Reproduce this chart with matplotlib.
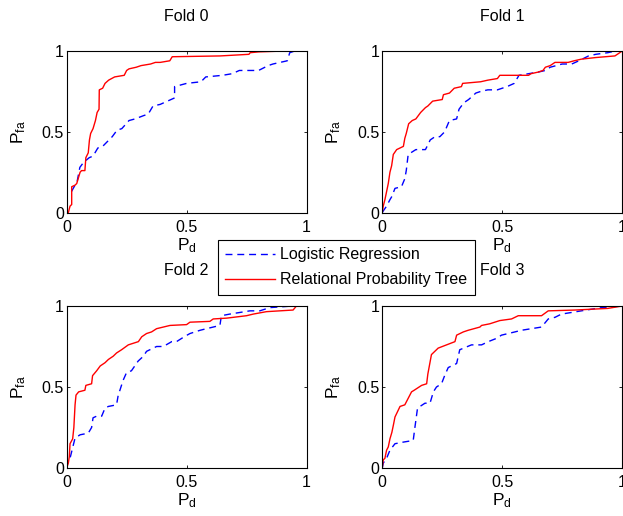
import matplotlib
matplotlib.use('Agg')
import matplotlib.pyplot as plt

plt.rcParams['font.family'] = ['Liberation Sans', 'DejaVu Sans']
plt.rcParams['font.size'] = 11.5
plt.rcParams['mathtext.fontset'] = 'custom'
plt.rcParams['mathtext.rm'] = 'Liberation Sans'

# ROC points, (P_d, P_fa) per fold
lr_x0 = [0, 0, 0.02, 0.035, 0.042, 0.055, 0.07, 0.094, 0.11, 0.13, 0.15, 0.19, 0.21, 0.23, 0.26, 0.285, 0.32, 0.34, 0.36, 0.39, 0.42, 0.45, 0.45, 0.5, 0.56, 0.58, 0.65, 0.69, 0.72, 0.8, 0.84, 0.86, 0.92, 0.93, 0.95, 1.0]
lr_y0 = [0, 0.11, 0.13, 0.17, 0.18, 0.28, 0.31, 0.34, 0.35, 0.40, 0.41, 0.47, 0.51, 0.52, 0.57, 0.58, 0.60, 0.61, 0.66, 0.67, 0.69, 0.71, 0.78, 0.80, 0.81, 0.84, 0.85, 0.86, 0.88, 0.88, 0.91, 0.92, 0.94, 0.99, 1.0, 1.0]
rpt_x0 = [0, 0.007, 0.014, 0.021, 0.021, 0.035, 0.042, 0.05, 0.056, 0.062, 0.076, 0.08, 0.09, 0.095, 0.1, 0.11, 0.12, 0.127, 0.135, 0.136, 0.15, 0.16, 0.175, 0.2, 0.24, 0.25, 0.26, 0.29, 0.31, 0.35, 0.37, 0.39, 0.43, 0.44, 0.64, 0.76, 0.765, 0.8, 0.9, 1.0]
rpt_y0 = [0, 0, 0.04, 0.05, 0.16, 0.17, 0.18, 0.22, 0.25, 0.26, 0.26, 0.34, 0.37, 0.45, 0.49, 0.52, 0.57, 0.62, 0.64, 0.76, 0.77, 0.80, 0.82, 0.84, 0.85, 0.88, 0.89, 0.90, 0.91, 0.92, 0.93, 0.93, 0.94, 0.965, 0.97, 0.98, 0.99, 0.995, 1.0, 1.0]

lr_x1 = [0, 0.004, 0.018, 0.032, 0.04, 0.053, 0.08, 0.094, 0.1, 0.108, 0.14, 0.18, 0.2, 0.22, 0.24, 0.26, 0.28, 0.31, 0.32, 0.34, 0.36, 0.39, 0.41, 0.44, 0.48, 0.52, 0.55, 0.57, 0.61, 0.65, 0.68, 0.7, 0.75, 0.79, 0.82, 0.86, 0.89, 0.94, 0.97, 1.0]
lr_y1 = [0, 0.01, 0.04, 0.08, 0.1, 0.15, 0.16, 0.21, 0.26, 0.36, 0.39, 0.39, 0.45, 0.47, 0.47, 0.50, 0.57, 0.58, 0.64, 0.68, 0.70, 0.74, 0.75, 0.76, 0.76, 0.78, 0.80, 0.85, 0.86, 0.87, 0.88, 0.90, 0.92, 0.92, 0.94, 0.97, 0.98, 0.99, 1.0, 1.0]
rpt_x1 = [0, 0.004, 0.011, 0.018, 0.025, 0.032, 0.039, 0.046, 0.06, 0.074, 0.088, 0.094, 0.1, 0.11, 0.125, 0.14, 0.16, 0.18, 0.19, 0.21, 0.25, 0.255, 0.28, 0.3, 0.33, 0.335, 0.41, 0.44, 0.48, 0.49, 0.61, 0.62, 0.65, 0.67, 0.68, 0.7, 0.72, 0.775, 0.8, 0.83, 0.89, 0.97, 1.0]
rpt_y1 = [0, 0.04, 0.08, 0.13, 0.18, 0.25, 0.29, 0.36, 0.39, 0.40, 0.41, 0.46, 0.49, 0.55, 0.57, 0.58, 0.62, 0.65, 0.66, 0.69, 0.70, 0.73, 0.74, 0.77, 0.78, 0.80, 0.81, 0.82, 0.83, 0.85, 0.85, 0.86, 0.87, 0.88, 0.90, 0.91, 0.93, 0.93, 0.94, 0.95, 0.96, 0.97, 1.0]

lr_x2 = [0, 0, 0.007, 0.014, 0.035, 0.056, 0.09, 0.104, 0.11, 0.125, 0.146, 0.16, 0.174, 0.208, 0.215, 0.222, 0.235, 0.25, 0.27, 0.298, 0.32, 0.333, 0.375, 0.403, 0.438, 0.458, 0.49, 0.514, 0.556, 0.583, 0.639, 0.645, 0.68, 0.722, 0.764, 0.805, 0.847, 0.944, 1.0]
lr_y2 = [0, 0.03, 0.04, 0.06, 0.185, 0.205, 0.215, 0.25, 0.31, 0.32, 0.32, 0.37, 0.38, 0.39, 0.45, 0.48, 0.54, 0.59, 0.6, 0.66, 0.69, 0.72, 0.75, 0.75, 0.78, 0.78, 0.81, 0.83, 0.85, 0.86, 0.88, 0.94, 0.95, 0.96, 0.97, 0.97, 0.99, 1.0, 1.0]
rpt_x2 = [0, 0.007, 0.011, 0.014, 0.025, 0.03, 0.035, 0.039, 0.05, 0.076, 0.08, 0.104, 0.108, 0.125, 0.14, 0.16, 0.174, 0.194, 0.208, 0.229, 0.257, 0.299, 0.313, 0.333, 0.354, 0.375, 0.403, 0.431, 0.5, 0.514, 0.597, 0.611, 0.667, 0.75, 0.778, 0.833, 0.944, 0.958, 1.0]
rpt_y2 = [0, 0.03, 0.07, 0.15, 0.18, 0.25, 0.39, 0.45, 0.47, 0.48, 0.51, 0.52, 0.57, 0.60, 0.63, 0.65, 0.67, 0.69, 0.71, 0.73, 0.76, 0.78, 0.81, 0.83, 0.84, 0.86, 0.87, 0.88, 0.885, 0.90, 0.905, 0.92, 0.925, 0.94, 0.95, 0.965, 0.975, 1.0, 1.0]

lr_x3 = [0, 0.004, 0.018, 0.032, 0.053, 0.088, 0.129, 0.136, 0.147, 0.178, 0.199, 0.213, 0.226, 0.247, 0.26, 0.275, 0.31, 0.323, 0.372, 0.414, 0.442, 0.476, 0.497, 0.525, 0.553, 0.58, 0.664, 0.692, 0.72, 0.747, 0.789, 0.83, 0.872, 0.914, 1.0]
lr_y3 = [0, 0.03, 0.06, 0.11, 0.15, 0.16, 0.17, 0.25, 0.37, 0.40, 0.40, 0.47, 0.50, 0.52, 0.57, 0.62, 0.645, 0.73, 0.76, 0.76, 0.78, 0.80, 0.82, 0.83, 0.84, 0.85, 0.87, 0.92, 0.93, 0.95, 0.96, 0.97, 0.98, 0.99, 1.0]
rpt_x3 = [0, 0.004, 0.011, 0.018, 0.025, 0.032, 0.04, 0.047, 0.053, 0.074, 0.094, 0.108, 0.122, 0.133, 0.164, 0.185, 0.19, 0.2, 0.205, 0.219, 0.233, 0.268, 0.303, 0.31, 0.338, 0.358, 0.407, 0.414, 0.448, 0.49, 0.539, 0.567, 0.664, 0.692, 0.803, 0.94, 1.0]
rpt_y3 = [0, 0.05, 0.06, 0.11, 0.13, 0.18, 0.22, 0.27, 0.315, 0.38, 0.39, 0.43, 0.47, 0.48, 0.51, 0.52, 0.58, 0.66, 0.70, 0.72, 0.74, 0.76, 0.78, 0.82, 0.84, 0.85, 0.87, 0.88, 0.89, 0.91, 0.92, 0.94, 0.94, 0.97, 0.975, 0.985, 1.0]

folds = [(lr_x0, lr_y0, rpt_x0, rpt_y0), (lr_x1, lr_y1, rpt_x1, rpt_y1),
         (lr_x2, lr_y2, rpt_x2, rpt_y2), (lr_x3, lr_y3, rpt_x3, rpt_y3)]
fold_titles = ['Fold 0', 'Fold 1', 'Fold 2', 'Fold 3']
series_labels = ['Logistic Regression', 'Relational Probability Tree']
tick_vals = [0, 0.5, 1]
tick_labels = ['0', '0.5', '1']

fig = plt.figure(figsize=(6.23, 5.16), dpi=100)

positions = [[0.107, 0.588, 0.385, 0.313], [0.6136, 0.588, 0.385, 0.313],
             [0.107, 0.093, 0.385, 0.314], [0.6136, 0.093, 0.385, 0.314]]

handles = None
for i, (lx, ly, rx, ry) in enumerate(folds):
    ax = fig.add_axes(positions[i])
    h1, = ax.plot(lx, ly, color='#0000ff', linestyle='--', dashes=(5, 3.5), linewidth=1)
    h2, = ax.plot(rx, ry, color='#ff0000', linewidth=1)
    handles = [h1, h2]
    ax.set_xlim(0, 1)
    ax.set_ylim(0, 1)
    ax.set_xticks(tick_vals)
    ax.set_xticklabels(tick_labels)
    ax.set_yticks(tick_vals)
    ax.set_yticklabels(tick_labels)
    ax.tick_params(axis='x', direction='in', top=True, length=2.5, width=0.6, labelsize=11.5, pad=5)
    ax.tick_params(axis='y', direction='in', right=True, length=2.5, width=0.6, labelsize=11.5, pad=2)
    for s in ax.spines.values():
        s.set_linewidth(0.8)
    ax.set_title(fold_titles[i], fontsize=11.5, pad=22)
    ax.set_xlabel(r'$\mathregular{P_d}$', fontsize=12.5, labelpad=1)
    ax.set_ylabel(r'$\mathregular{P_{fa}}$', fontsize=12.5, labelpad=10)

leg = fig.legend(handles, series_labels, loc='center', bbox_to_anchor=(0.556, 0.482),
                 fontsize=11.5, fancybox=False, edgecolor='black', framealpha=1,
                 handlelength=3.1, handletextpad=0.35, borderpad=0.45, labelspacing=0.65,
                 borderaxespad=0)
leg.get_frame().set_linewidth(0.8)
leg.set_zorder(10)

fig.savefig('out.png', dpi=100)
